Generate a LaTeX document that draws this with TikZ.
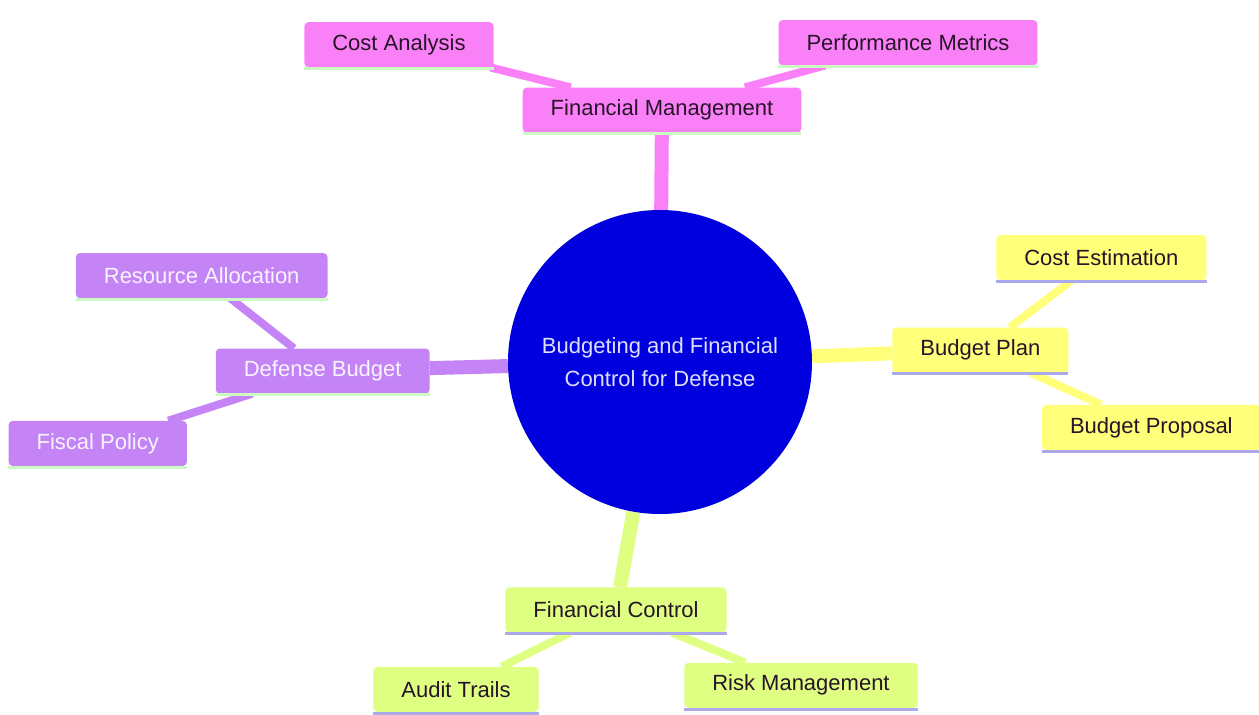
\documentclass[tikz,border=0pt]{standalone}
\usepackage{fontspec}
\setmainfont{Liberation Sans}
\usetikzlibrary{positioning,backgrounds}

\definecolor{rootblue}{RGB}{0,0,222}
\definecolor{roottext}{RGB}{222,222,255}
\definecolor{mmpink}{RGB}{250,128,248}
\definecolor{mmpurple}{RGB}{196,132,245}
\definecolor{mmyellow}{RGB}{255,255,122}
\definecolor{mmgreen}{RGB}{222,255,130}
\definecolor{darktext}{RGB}{40,20,40}
\definecolor{lighttext}{RGB}{248,244,255}
\definecolor{greenline}{RGB}{205,250,195}
\definecolor{lavline}{RGB}{172,168,236}

\begin{document}
\begin{tikzpicture}[
node distance=1.6cm,
idea/.style={rounded corners=4pt, minimum height=45pt, inner xsep=28pt, font=\fontsize{22}{26}\selectfont},
pinkidea/.style={idea, fill=mmpink, text=darktext},
purpleidea/.style={idea, fill=mmpurple, text=lighttext},
yellowidea/.style={idea, fill=mmyellow, text=darktext},
greenidea/.style={idea, fill=mmgreen, text=darktext},
mainlink/.style={line width=14pt},
link/.style={line width=8pt}
]
\useasboundingbox (-660pt,362pt) rectangle (599pt,-353pt);

\node[circle, fill=rootblue, minimum size=304pt, inner sep=0pt, text=roottext, align=center,
  font=\fontsize{22}{33}\selectfont] (root) {Budgeting and Financial\\Control for Defense};

% financial management (top)
\node[pinkidea, above=77pt of root, xshift=2pt] (fm) {Financial Management};
\node[pinkidea, above=20pt of fm, xshift=-263pt] (ca) {Cost Analysis};
\node[pinkidea, above=22pt of fm, xshift=246pt] (pm) {Performance Metrics};

% budget plan (right)
\node[yellowidea, right=80pt of root, yshift=12pt] (bp) {Budget Plan};
\node[yellowidea, above=47pt of bp, xshift=121pt] (ce) {Cost Estimation};
\node[yellowidea, below=32pt of bp, xshift=171pt] (bpr) {Budget Proposal};

% defense budget (left)
\node[purpleidea, left=78pt of root, yshift=-9pt] (db) {Defense Budget};
\node[purpleidea, above=50pt of db, xshift=-121pt] (ra) {Resource Allocation};
\node[purpleidea, below=27pt of db, xshift=-225pt] (fp) {Fiscal Policy};

% financial control (bottom)
\node[greenidea, below=73pt of root, xshift=-44pt] (fc) {Financial Control};
\node[greenidea, below=34pt of fc, xshift=-160pt] (at) {Audit Trails};
\node[greenidea, below=30pt of fc, xshift=185pt] (rm) {Risk Management};

\begin{scope}[on background layer]
\draw[mainlink, mmpink] (root) -- (fm);
\draw[link, mmpink] (fm) -- (ca);
\draw[link, mmpink] (fm) -- (pm);
\draw[mainlink, mmyellow] (root) -- (bp);
\draw[link, mmyellow] (bp) -- (ce);
\draw[link, mmyellow] (bp) -- (bpr);
\draw[mainlink, mmpurple] (root) -- (db);
\draw[link, mmpurple] (db) -- (ra);
\draw[link, mmpurple] (db) -- (fp);
\draw[mainlink, mmgreen] (root) -- (fc);
\draw[link, mmgreen] (fc) -- (at);
\draw[link, mmgreen] (fc) -- (rm);
\end{scope}

\foreach \n in {fm,ca,pm,db,ra,fp}
  \draw[greenline, line width=3pt] ([yshift=-1pt]\n.south west) -- ([yshift=-1pt]\n.south east);
\foreach \n in {bp,ce,bpr,fc,at,rm}
  \draw[lavline, line width=3pt] ([yshift=-1pt]\n.south west) -- ([yshift=-1pt]\n.south east);
\end{tikzpicture}
\end{document}
